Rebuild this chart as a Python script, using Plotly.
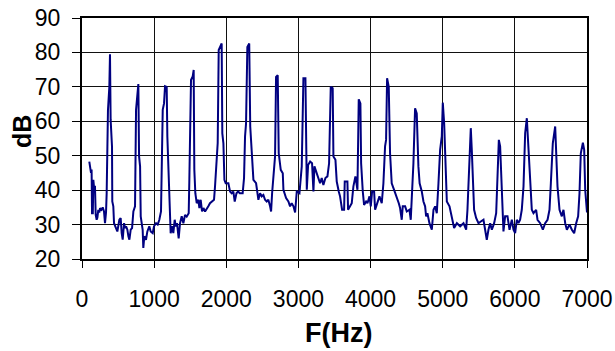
import plotly.graph_objects as go

freq_hz = [101, 125, 133, 139, 150, 157, 166, 180, 190, 203, 213, 226, 240, 250, 270, 287, 305, 319, 333, 342,
           360, 379, 388, 397, 416, 420, 434, 444, 471, 490, 518, 536, 550, 564, 583, 597, 611, 629, 643, 657,
           675, 694, 712, 735, 749, 767, 781, 791, 805, 814, 827, 841, 850, 864, 887, 906, 933, 952, 980, 998,
           1026, 1049, 1072, 1095, 1119, 1137, 1151, 1174, 1183, 1197, 1211, 1229, 1248, 1266, 1285, 1299, 1317, 1340, 1359, 1382,
           1405, 1428, 1451, 1479, 1488, 1511, 1534, 1548, 1557, 1571, 1590, 1613, 1627, 1645, 1664, 1683, 1706, 1729, 1751, 1774,
           1797, 1830, 1844, 1867, 1881, 1895, 1913, 1936, 1945, 1960, 1974, 1992, 2029, 2052, 2075, 2098, 2117, 2141, 2164, 2187,
           2227, 2246, 2260, 2274, 2292, 2318, 2332, 2353, 2376, 2413, 2431, 2445, 2468, 2491, 2514, 2537, 2560, 2583, 2607, 2621,
           2635, 2653, 2676, 2690, 2713, 2727, 2755, 2783, 2792, 2829, 2861, 2884, 2907, 2931, 2954, 2977, 3014, 3046, 3069, 3097,
           3106, 3116, 3134, 3162, 3189, 3208, 3222, 3254, 3277, 3300, 3323, 3346, 3374, 3402, 3425, 3448, 3475, 3485, 3513, 3531,
           3559, 3577, 3605, 3633, 3642, 3679, 3688, 3716, 3739, 3762, 3790, 3818, 3836, 3859, 3869, 3892, 3910, 3938, 3957, 3985,
           4003, 4021, 4049, 4063, 4086, 4123, 4155, 4178, 4201, 4215, 4229, 4252, 4270, 4293, 4326, 4363, 4391, 4409, 4432, 4446,
           4479, 4502, 4539, 4557, 4576, 4594, 4617, 4640, 4663, 4680, 4710, 4733, 4756, 4770, 4788, 4816, 4849, 4872, 4895, 4918,
           4941, 4964, 4987, 5001, 5020, 5034, 5048, 5057, 5094, 5112, 5140, 5158, 5196, 5242, 5288, 5325, 5343, 5371, 5389, 5403,
           5417, 5435, 5463, 5496, 5528, 5565, 5588, 5611, 5634, 5658, 5681, 5713, 5741, 5759, 5778, 5796, 5810, 5824, 5842, 5865,
           5898, 5926, 5958, 5981, 6004, 6027, 6050, 6073, 6096, 6120, 6143, 6166, 6189, 6212, 6235, 6258, 6295, 6314, 6351, 6388,
           6420, 6453, 6480, 6499, 6526, 6559, 6573, 6591, 6619, 6651, 6674, 6698, 6721, 6758, 6790, 6822, 6850, 6877, 6896, 6914,
           6943, 6961, 6975, 6992, 7000]

level_db = [48.3, 45.0, 46.0, 33.3, 33.3, 43.0, 41.0, 41.0, 32.8, 31.4, 32.0, 34.3, 33.5, 34.8, 34.3, 35.0, 33.8, 30.4, 33.5, 39.1,
            63.3, 70.0, 79.5, 60.4, 52.7, 36.7, 35.3, 30.4, 29.0, 28.0, 31.4, 31.9, 27.5, 25.6, 30.4, 29.0, 29.5, 28.5, 26.6, 25.6,
            28.5, 29.0, 33.8, 35.3, 63.3, 67.2, 70.8, 49.8, 46.9, 32.4, 31.0, 28.5, 23.2, 26.6, 25.6, 28.0, 29.5, 28.0, 27.5, 29.5,
            30.4, 30.0, 31.4, 33.8, 63.3, 65.2, 70.2, 70.0, 55.6, 44.9, 33.3, 27.5, 29.5, 27.5, 31.4, 29.5, 30.4, 26.0, 30.4, 32.4,
            30.4, 32.8, 32.3, 33.3, 43.0, 72.0, 73.0, 74.9, 45.9, 39.1, 36.2, 37.2, 34.8, 37.2, 33.8, 34.8, 33.8, 34.8, 35.3, 36.2,
            36.7, 37.2, 41.1, 51.7, 53.7, 80.7, 81.6, 82.6, 56.5, 53.6, 43.0, 42.0, 42.0, 39.6, 39.1, 39.6, 36.7, 39.1, 39.6, 39.1,
            39.1, 43.5, 55.6, 59.4, 81.6, 82.6, 58.5, 50.7, 43.0, 42.0, 39.6, 37.2, 39.1, 38.2, 38.6, 37.2, 36.7, 37.2, 35.3, 33.8,
            39.1, 45.4, 49.8, 72.9, 73.4, 50.7, 45.9, 44.9, 40.1, 37.7, 36.7, 35.3, 36.2, 35.3, 33.5, 39.6, 39.1, 46.9, 72.5, 72.5,
            47.8, 40.1, 47.3, 48.3, 47.8, 39.6, 46.9, 44.9, 44.0, 42.0, 43.5, 41.5, 43.5, 44.0, 47.8, 70.0, 69.6, 49.8, 48.8, 42.5,
            39.6, 38.2, 34.3, 34.3, 42.5, 42.5, 34.3, 35.3, 36.2, 41.1, 44.0, 40.1, 66.4, 65.2, 47.8, 39.6, 35.7, 36.7, 36.2, 38.2,
            35.3, 39.6, 39.6, 34.3, 35.7, 38.2, 36.2, 42.0, 52.7, 54.6, 72.5, 70.0, 50.7, 42.0, 40.1, 38.2, 36.2, 34.8, 31.4, 35.3,
            35.3, 33.8, 34.3, 31.4, 40.1, 47.8, 63.8, 62.3, 46.9, 42.0, 39.6, 36.7, 35.3, 32.4, 33.3, 30.4, 28.5, 34.3, 35.3, 33.3,
            42.0, 51.7, 55.6, 65.4, 59.4, 51.7, 42.0, 36.7, 35.3, 33.3, 30.4, 29.0, 30.4, 29.5, 30.4, 28.5, 34.3, 48.8, 58.0, 51.7,
            41.1, 34.3, 31.9, 30.4, 30.9, 31.4, 28.5, 25.6, 28.5, 30.4, 28.5, 30.4, 33.3, 42.0, 54.6, 52.7, 44.9, 34.3, 28.0, 32.4,
            32.4, 28.5, 31.4, 28.5, 27.5, 31.4, 30.4, 31.4, 34.3, 41.1, 56.6, 60.9, 51.7, 42.0, 34.3, 33.3, 34.3, 31.4, 30.4, 28.5,
            30.4, 31.4, 34.3, 42.0, 53.6, 58.5, 48.8, 41.1, 34.3, 32.4, 34.3, 30.4, 28.5, 30.0, 28.5, 27.5, 30.4, 32.4, 39.1, 50.7,
            53.8, 51.7, 40.1, 36.2, 33.5]

x_ticks = [0, 1000, 2000, 3000, 4000, 5000, 6000, 7000]
y_ticks = [20, 30, 40, 50, 60, 70, 80, 90]
x_title = "F(Hz)"
y_title = "dB"

FONT = "Liberation Sans, Arial, sans-serif"

fig = go.Figure()
fig.add_trace(go.Scatter(x=freq_hz, y=level_db, mode="lines",
                         line=dict(color="#000080", width=2), showlegend=False,
                         hoverinfo="skip", cliponaxis=True))

fig.update_layout(
    width=615, height=351,
    margin=dict(l=82, r=28, t=18, b=92, pad=0, autoexpand=False),
    paper_bgcolor="white", plot_bgcolor="white",
    font=dict(family=FONT, color="black", size=23),
    xaxis=dict(range=[0, 7000], tickvals=x_ticks, ticktext=[str(v) for v in x_ticks],
               automargin=False,
               showgrid=True, gridcolor="#111111", gridwidth=1,
               showline=True, linecolor="black", linewidth=2, mirror=True,
               ticks="outside", ticklen=7, tickcolor="black", tickwidth=1,
               ticklabelstandoff=11, zeroline=False,
               tickfont=dict(family=FONT, size=23, color="black")),
    yaxis=dict(range=[20, 90], tickvals=y_ticks, ticktext=[str(v) for v in y_ticks],
               automargin=False,
               showgrid=True, gridcolor="#111111", gridwidth=1,
               showline=True, linecolor="black", linewidth=2, mirror=True,
               ticks="outside", ticklen=8, tickcolor="black", tickwidth=1,
               ticklabelstandoff=7, zeroline=False,
               tickfont=dict(family=FONT, size=23, color="black")),
    annotations=[
        dict(text="<b>" + x_title + "</b>", xref="paper", yref="paper",
             x=(338 - 82) / 505, y=-(333 - 259) / 241, xanchor="center", yanchor="middle",
             showarrow=False, font=dict(family=FONT, size=27, color="black")),
        dict(text="<b>" + y_title + "</b>", xref="paper", yref="paper",
             x=-(82 - 22) / 505, y=(259 - 132) / 241, xanchor="center", yanchor="middle",
             textangle=-90, showarrow=False, font=dict(family=FONT, size=25, color="black")),
    ],
)

fig.write_html("out.html")
